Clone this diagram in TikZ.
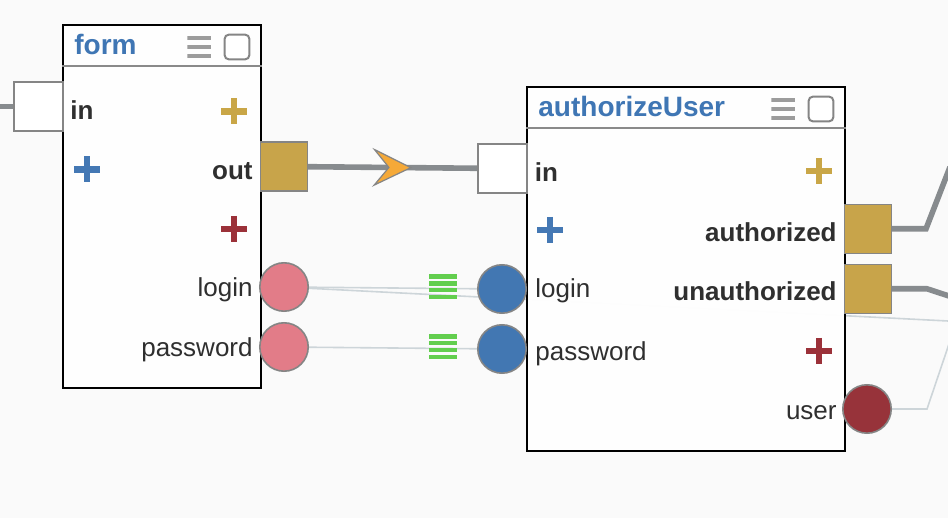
\documentclass[tikz,border=0pt]{standalone}
\usepackage{fontspec}
\setmainfont{Liberation Sans}
\usepackage{xcolor}
\usetikzlibrary{positioning, arrows.meta, backgrounds, decorations.markings}

\definecolor{canvas}{HTML}{FAFAFA}
\definecolor{ink}{HTML}{2F2F2F}
\definecolor{titleblue}{HTML}{3F76B4}
\definecolor{headgray}{HTML}{8A8A8A}
\definecolor{menugray}{HTML}{9C9C9C}
\definecolor{edgegray}{HTML}{858585}
\definecolor{wiregray}{HTML}{878B8E}
\definecolor{datagray}{HTML}{CDD5D9}
\definecolor{portgold}{HTML}{C8A44A}
\definecolor{plusgold}{HTML}{C9A647}
\definecolor{plusblue}{HTML}{4478B4}
\definecolor{plusred}{HTML}{9B3139}
\definecolor{pinkfill}{HTML}{E27C88}
\definecolor{bluefill}{HTML}{4277B2}
\definecolor{redfill}{HTML}{97333A}
\definecolor{arroworange}{HTML}{F5A938}
\definecolor{queuegreen}{HTML}{62CE4E}

\begin{document}
\begin{tikzpicture}[x=0.5pt, y=-0.5pt]

    % Define styles
    \tikzset{
        block/.style={rectangle, draw=black, line width=1pt, fill=white, fill opacity=0.96, inner sep=0pt},
        headline/.style={draw=headgray, line width=1pt},
        title/.style={font=\fontsize{14}{16}\selectfont\bfseries, text=titleblue, inner sep=0pt, anchor=base west},
        tag/.style={font=\fontsize{13}{15}\selectfont, text=ink, inner sep=0pt},
        boldtag/.style={tag, font=\fontsize{13}{15}\selectfont\bfseries},
        inport/.style={rectangle, draw=edgegray, line width=0.6pt, fill=white, minimum size=24.5pt, inner sep=0pt},
        outport/.style={rectangle, draw=edgegray, line width=0.6pt, fill=portgold, minimum width=23.3pt, minimum height=24.5pt, inner sep=0pt},
        dataport/.style={circle, draw=edgegray, line width=0.8pt, fill=#1, minimum size=24.2pt, inner sep=0pt},
        plusmark/.style={minimum size=13pt, inner sep=0pt, path picture={
            \draw[#1, line width=3.4pt] (path picture bounding box.north) -- (path picture bounding box.south)
                (path picture bounding box.west) -- (path picture bounding box.east);}},
        checkbox/.style={rectangle, draw=edgegray, line width=1pt, rounded corners=2pt, fill=white, minimum size=12.3pt, inner sep=0pt},
        menu/.style={minimum width=12pt, minimum height=11.2pt, inner sep=0pt, path picture={
            \foreach \k in {0,1,2}
                \fill[menugray] ([yshift={-(4.6*\k)*1pt}]path picture bounding box.north west)
                    rectangle ([yshift={-(2+4.6*\k)*1pt}]path picture bounding box.north east);}},
        queue/.style={minimum width=14pt, minimum height=12.7pt, inner sep=0pt, path picture={
            \foreach \k in {0,...,3}
                \fill[queuegreen] ([yshift={-(0.2+3.45*\k)*1pt}]path picture bounding box.north west)
                    rectangle ([yshift={-(2.3+3.45*\k)*1pt}]path picture bounding box.north east);}},
        wire/.style={draw=wiregray, line width=2.8pt},
        flow/.style={wire, postaction={decorate}, decoration={markings,
            mark=at position 0.615 with {\arrow{Stealth[length=20pt, width=19.5pt, inset=8pt, fill=arroworange, color=edgegray, line width=0.6pt]}}}},
        dataline/.style={draw=datagray, line width=0.8pt}
    }

    \useasboundingbox (0,0) rectangle (948,518);

    % form block
    \node (form) [block, minimum width=99pt, minimum height=181.5pt] at (162,206.5) {};
    \node (formtitle) [title] at (74,55) {form};
    \node (fcheck) [checkbox] at (237,47) {};
    \node (fmenu) [menu, left=6pt of fcheck] {};
    \draw[headline] ([yshift=-21pt]form.north west) -- ([yshift=-21pt]form.north east);

    \node (fintag)   [boldtag, anchor=base west] at (70,120) {in};
    \node (fouttag)  [boldtag, anchor=base east] at (253,180) {out};
    \node (flogtag)  [tag, anchor=base east] at (253,297) {login};
    \node (fpasstag) [tag, anchor=base east] at (253,357) {password};
    \node (fplusout) [plusmark=plusgold] at (234,111.5) {};
    \node (fplusin)  [plusmark=plusblue] at (87,169.5) {};
    \node (fplusdat) [plusmark=plusred] at (234,229) {};

    \node (fin)    [inport] at (38.5,106.5) {};
    \node (fout)   [outport] at (284,166.5) {};
    \node (flogin) [dataport=pinkfill] at (284,287) {};
    \node (fpass)  [dataport=pinkfill] at (284,347) {};

    % authorizeUser block
    \node (auth) [block, minimum width=159pt, minimum height=182pt] at (686,269) {};
    \node (authtitle) [title] at (538,117) {authorizeUser};
    \node (acheck) [checkbox] at (821,109) {};
    \node (amenu) [menu, left=6pt of acheck] {};
    \draw[headline] ([yshift=-21pt]auth.north west) -- ([yshift=-21pt]auth.north east);

    \node (aintag)    [boldtag, anchor=base west] at (534.5,182) {in};
    \node (alogtag)   [tag, anchor=base west] at (535,298) {login};
    \node (apasstag)  [tag, anchor=base west] at (535,360) {password};
    \node (aauthtag)  [boldtag, anchor=base east] at (837,242) {authorized};
    \node (aunauthtag)[boldtag, anchor=base east] at (837,301) {unauthorized};
    \node (ausertag)  [tag, anchor=base east] at (837,419) {user};
    \node (aplusout)  [plusmark=plusgold] at (819,171) {};
    \node (aplusin)   [plusmark=plusblue] at (550,230) {};
    \node (aplusdat)  [plusmark=plusred] at (819,351) {};

    \node (ain)     [inport] at (502.5,168.5) {};
    \node (alogin)  [dataport=bluefill] at (502,289) {};
    \node (apass)   [dataport=bluefill] at (502,349) {};
    \node (aauth)   [outport] at (868,228.8) {};
    \node (aunauth) [outport] at (868,288.8) {};
    \node (auser)   [dataport=redfill] at (867,409) {};

    % queued values
    \node (qlogin) [queue] at (443,286.8) {};
    \node (qpass)  [queue] at (443,346.7) {};

    % free ends of the wires
    \coordinate (westin) at (0,106.5);
    \coordinate (authbend) at (926,228.8);
    \coordinate (authexit) at (950,167);
    \coordinate (unauthbend) at (927,288.8);
    \coordinate (unauthexit) at (952,297);
    \coordinate (userbend) at (927,409);
    \coordinate (userexit) at (950,341);
    \coordinate (loginexit) at (948,321);

    % Wires (behind the blocks)
    \begin{scope}[on background layer]
        \fill[canvas] (0,0) rectangle (948,518);
        \draw[dataline] (flogin) -- (loginexit);
        \draw[dataline] (flogin) -- (alogin);
        \draw[dataline] (fpass) -- (apass);
        \draw[dataline] (auser) -- (userbend) -- (userexit);
        \draw[wire] (westin) -- (fin);
        \draw[flow] (fout) -- (ain);
        \draw[wire] (aauth) -- (authbend) -- (authexit);
        \draw[wire] (aunauth) -- (unauthbend) -- (unauthexit);
    \end{scope}

\end{tikzpicture}
\end{document}
